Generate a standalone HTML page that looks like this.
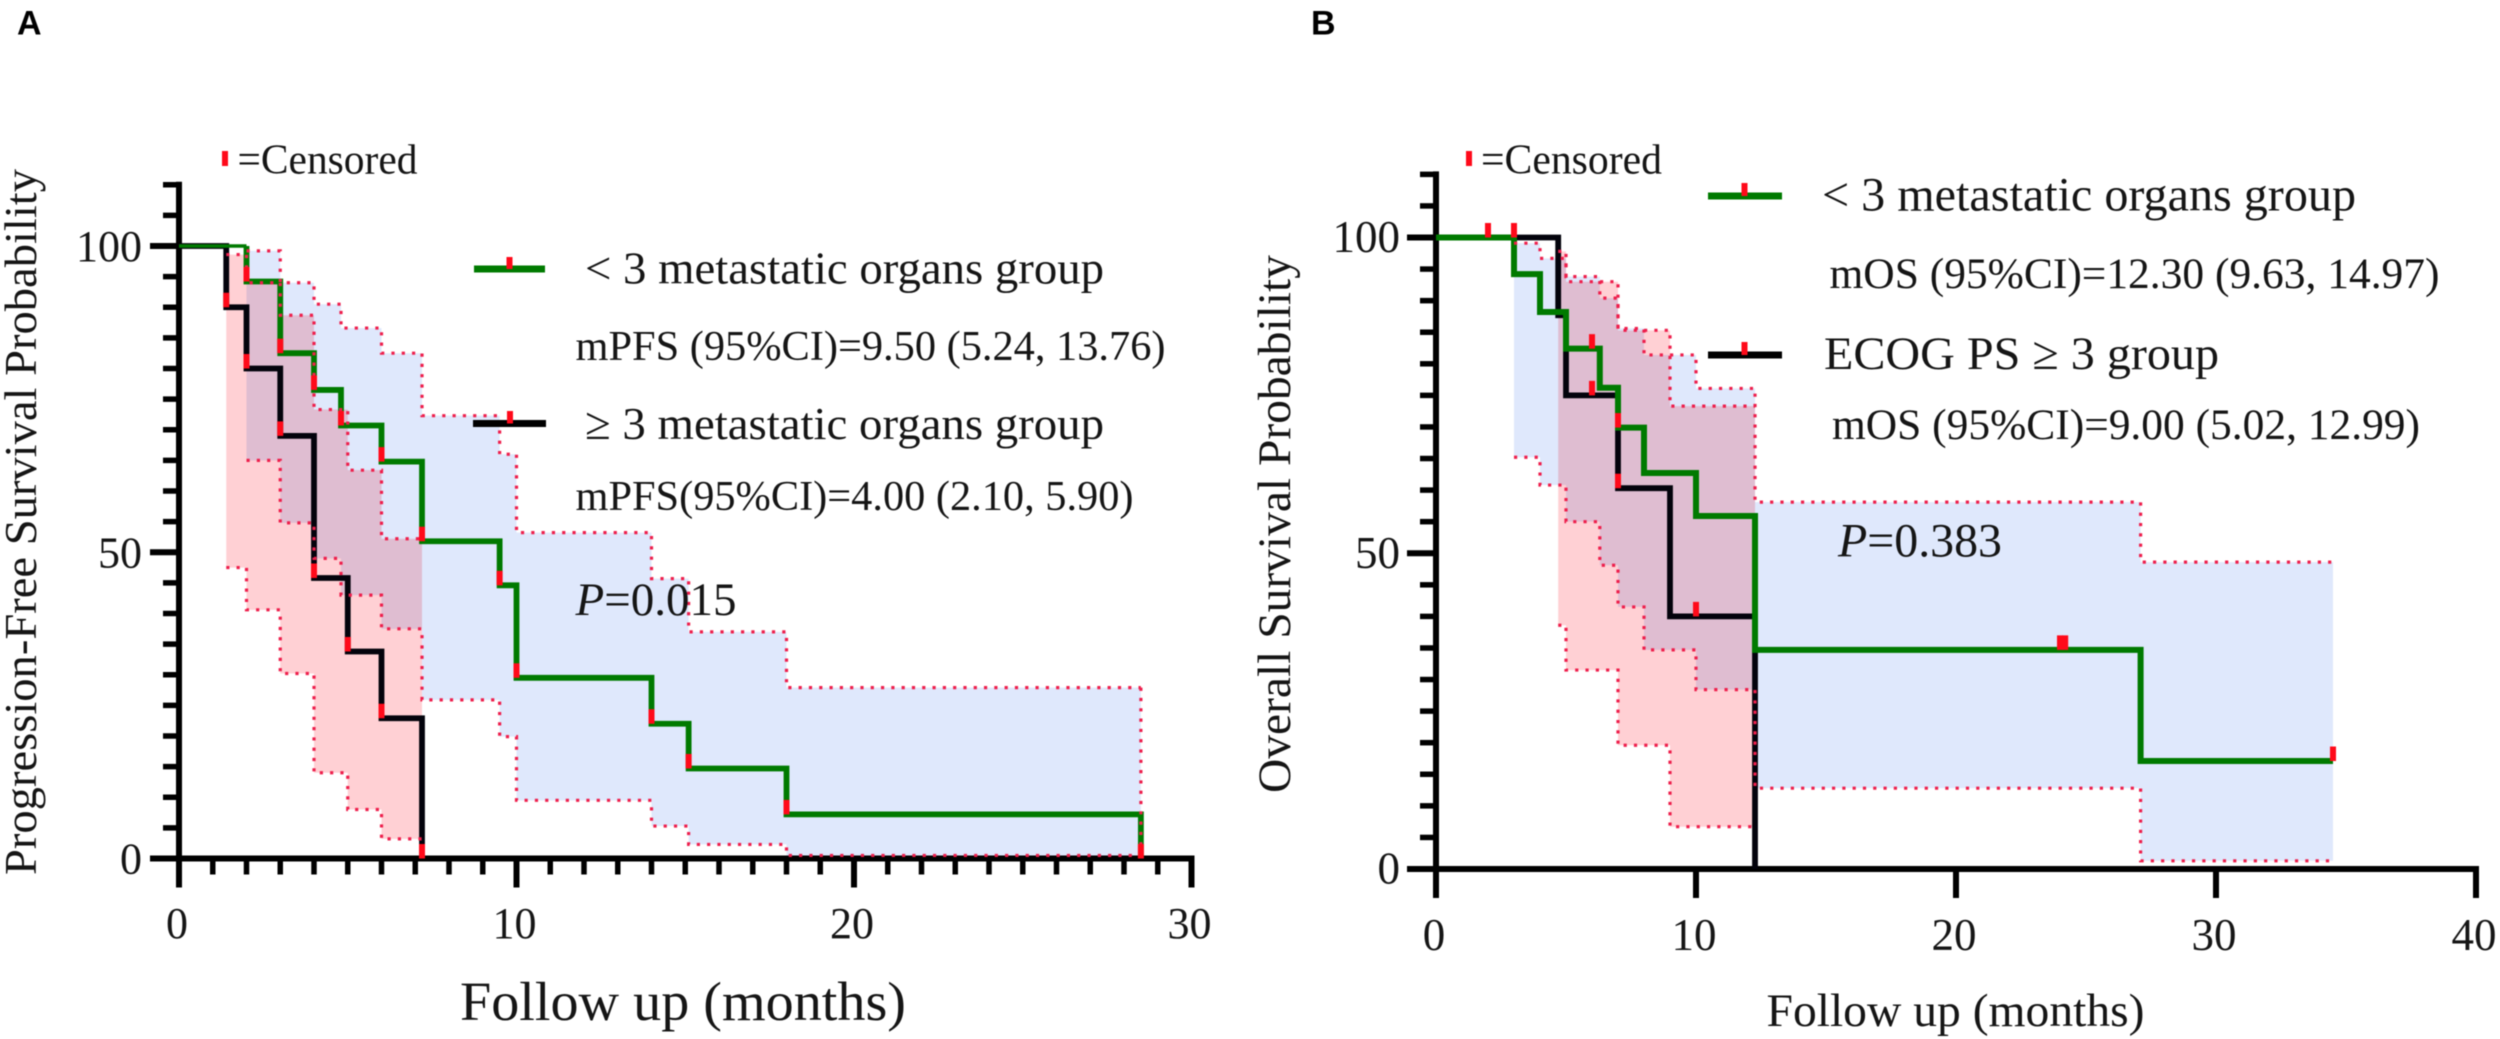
<!DOCTYPE html>
<html lang="en">
<head>
<meta charset="utf-8">
<title>Kaplan-Meier survival curves</title>
<style>
  html, body { margin: 0; padding: 0; background: #fff; }
  svg { display: block; filter: blur(0.6px); }
  text { font-family: "Liberation Serif", serif; fill: #151515; }
  .letter { font-family: "Liberation Sans", sans-serif; font-weight: 700; font-size: 34px; fill: #000; }
</style>
</head>
<body>
<svg id="figure" xmlns="http://www.w3.org/2000/svg" width="2500" height="1039" viewBox="0 0 2500 1039">
  <rect x="0" y="0" width="2500" height="1039" fill="#fff"/>
  <g id="panel-a"></g>
  <g id="panel-b"></g>

  <text class="letter" x="17" y="34.5">A</text>
  <text class="letter" x="1311" y="34.5">B</text>

  <!-- Panel A annotations -->
  <g>
    <rect x="222" y="151" width="6" height="15" fill="#ff0a1a"/>
    <text x="237.5" y="173.5" font-size="42" textLength="180" lengthAdjust="spacingAndGlyphs">=Censored</text>
    <line x1="474" y1="269" x2="545" y2="269" stroke="#007a00" stroke-width="7"/>
    <rect x="506.5" y="257" width="6" height="12" fill="#ff0a1a"/>
    <text x="585" y="283.5" font-size="46" textLength="519" lengthAdjust="spacingAndGlyphs">&lt; 3 metastatic organs group</text>
    <text x="575.5" y="360" font-size="42" textLength="590" lengthAdjust="spacingAndGlyphs">mPFS (95%CI)=9.50 (5.24, 13.76)</text>
    <line x1="473" y1="423.5" x2="546" y2="423.5" stroke="#000" stroke-width="7"/>
    <rect x="507" y="411" width="6" height="12.5" fill="#ff0a1a"/>
    <text x="585" y="439" font-size="46" textLength="519" lengthAdjust="spacingAndGlyphs">≥ 3 metastatic organs group</text>
    <text x="575.5" y="510" font-size="42" textLength="558" lengthAdjust="spacingAndGlyphs">mPFS(95%CI)=4.00 (2.10, 5.90)</text>
    <text x="575.5" y="615" font-size="47" textLength="161" lengthAdjust="spacingAndGlyphs"><tspan font-style="italic">P</tspan>=0.015</text>
    <text x="460" y="1020" font-size="55" textLength="446" lengthAdjust="spacingAndGlyphs">Follow up (months)</text>
    <text transform="translate(36 875) rotate(-90)" x="0" y="0" font-size="46" textLength="706" lengthAdjust="spacingAndGlyphs">Progression-Free Survival Probability</text>
  </g>

  <!-- Panel B annotations -->
  <g>
    <rect x="1466" y="151" width="6" height="15" fill="#ff0a1a"/>
    <text x="1481" y="173.5" font-size="42" textLength="181" lengthAdjust="spacingAndGlyphs">=Censored</text>
    <line x1="1708" y1="196" x2="1782" y2="196" stroke="#007a00" stroke-width="7"/>
    <rect x="1741.5" y="183" width="6" height="13" fill="#ff0a1a"/>
    <text x="1822" y="210.5" font-size="48" textLength="534" lengthAdjust="spacingAndGlyphs">&lt; 3 metastatic organs group</text>
    <text x="1829.5" y="288" font-size="43" textLength="610" lengthAdjust="spacingAndGlyphs">mOS (95%CI)=12.30 (9.63, 14.97)</text>
    <line x1="1708" y1="355" x2="1782" y2="355" stroke="#000" stroke-width="7"/>
    <rect x="1741.5" y="342" width="6" height="13" fill="#ff0a1a"/>
    <text x="1824" y="369" font-size="47" textLength="395" lengthAdjust="spacingAndGlyphs">ECOG PS ≥ 3 group</text>
    <text x="1832" y="439" font-size="43" textLength="588" lengthAdjust="spacingAndGlyphs">mOS (95%CI)=9.00 (5.02, 12.99)</text>
    <text x="1838" y="556.5" font-size="48" textLength="164" lengthAdjust="spacingAndGlyphs"><tspan font-style="italic">P</tspan>=0.383</text>
    <text x="1766.5" y="1026" font-size="47" textLength="378" lengthAdjust="spacingAndGlyphs">Follow up (months)</text>
    <text transform="translate(1290 793) rotate(-90)" x="0" y="0" font-size="47" textLength="538" lengthAdjust="spacingAndGlyphs">Overall Survival Probability</text>
  </g>
</svg>

<script>
// ---------- Panel A data (progression-free survival) ----------
const aGreenTimes = [0, 2, 3, 4, 4.8, 6, 7.2, 9.5, 10, 14, 15.1, 18, 28.5];
const aGreenSurvival = [100, 94.2, 82.5, 76.5, 70.7, 64.8, 51.8, 44.6, 29.5, 22, 14.7, 7.2, 0];
const aBlackTimes = [0, 1.4, 2, 3, 4, 5, 6, 7.2];
const aBlackSurvival = [100, 90, 80, 69, 45.8, 33.8, 22.9, 0];
const aGreenCiTimes = [2, 3, 4, 4.8, 6, 7.2, 9.5, 10, 14, 15.1, 18, 28.5];
const aGreenCiUpper = [99.2, 94, 90.5, 86.6, 82.5, 72.3, 66, 53.2, 45.7, 37, 27.9];
const aGreenCiLower = [65, 54.8, 49, 43, 37.5, 25.9, 19.9, 9.5, 5.3, 2.3, 0.5];
const aBlackCiTimes = [1.4, 2, 3, 4, 5, 6, 7.2];
const aBlackCiUpper = [98.6, 94, 88.7, 73.3, 63.4, 52.2];
const aBlackCiLower = [47.5, 40.6, 30.2, 14, 8, 3.2];
const aCensorTimes = [2, 3, 4, 4.8, 6, 7.2, 9.5, 10, 14, 15.1, 18, 28.5, 1.4, 2, 3, 4, 5, 6, 7.2];
const aCensorSurvival = [94.2, 82.5, 76.5, 70.7, 64.8, 51.8, 44.6, 29.5, 22, 14.7, 7.2, 0, 90, 80, 69, 45.8, 33.8, 22.9, 0];
const aXTickLabels = [0, 10, 20, 30];
const aYTickLabels = [0, 50, 100];

// ---------- Panel B data (overall survival) ----------
const bGreenTimes = [0, 3, 4, 5, 6.3, 7, 8, 10, 12.27, 27.1, 34.5];
const bGreenSurvival = [100, 94.2, 88.2, 82.4, 76.2, 69.9, 62.7, 55.9, 34.7, 17.1, 17.1];
const bBlackTimes = [0, 4.7, 5, 7, 9, 12.27];
const bBlackSurvival = [100, 87.7, 75, 60.3, 40, 0];
const bGreenCiTimes = [3, 4, 5, 6.3, 7, 8, 10, 12.27, 27.1, 34.5];
const bGreenCiUpper = [99.1, 96.7, 93.8, 90.4, 85.6, 81.4, 76.1, 58.1, 48.6];
const bGreenCiLower = [65.2, 60.8, 55, 48.1, 41.5, 34.7, 28.4, 12.8, 1.3];
const bBlackCiTimes = [4.7, 5, 7, 9, 12.27];
const bBlackCiUpper = [97.8, 93, 85.3, 73.3];
const bBlackCiLower = [38.6, 31.5, 19.6, 6.7];
const bCensorTimes = [2, 3, 6, 7, 24, 24.2, 34.5, 6, 7, 10];
const bCensorSurvival = [100, 100, 82.4, 69.9, 34.7, 34.7, 17.1, 75, 60.3, 40];
const bXTickLabels = [0, 10, 20, 30, 40];
const bYTickLabels = [0, 50, 100];

// ---------- Axis functions ----------
const xA = t => 179 + t * 33.75;
const yA = s => 858.5 - s * 6.125;
const xB = t => 1436 + t * 26;
const yB = s => 869 - s * 6.315;

const SVG_NS = 'http://www.w3.org/2000/svg';
function make(tag, parent, attrs) {
  const node = document.createElementNS(SVG_NS, tag);
  for (const k in attrs) node.setAttribute(k, attrs[k]);
  parent.appendChild(node);
  return node;
}

// Step path; when fromIndex > 0 the path begins at that step's riser
function stepPath(times, vals, x, y, fromIndex) {
  const start = fromIndex || 0;
  let d;
  if (start > 0) {
    d = 'M' + x(times[start]) + ' ' + y(vals[start - 1]) + 'V' + y(vals[start]);
  } else {
    d = 'M' + x(times[0]) + ' ' + y(vals[0]);
  }
  for (let i = start + 1; i < times.length; i++) {
    d += 'H' + x(times[i]) + 'V' + y(vals[i]);
  }
  return d;
}

// Path for a CI edge: values.length === times.length - 1
function ciEdgePath(times, vals, x, y) {
  let d = 'M' + x(times[0]) + ' ' + y(vals[0]);
  for (let i = 0; i < vals.length; i++) {
    d += 'H' + x(times[i + 1]);
    if (i + 1 < vals.length) d += 'V' + y(vals[i + 1]);
  }
  return d;
}

// Closed band between the two CI edges
function ciBandPath(times, upper, lower, x, y) {
  let d = ciEdgePath(times, upper, x, y);
  d += 'V' + y(lower[lower.length - 1]);
  for (let i = lower.length - 1; i >= 0; i--) {
    d += 'H' + x(times[i]);
    if (i > 0) d += 'V' + y(lower[i - 1]);
  }
  return d + 'Z';
}

function drawBand(parent, times, upper, lower, x, y, fill, blend, name) {
  const band = make('path', parent, { d: ciBandPath(times, upper, lower, x, y), fill: fill, style: 'mix-blend-mode:' + blend });
  
  
}

function drawDots(parent, times, vals, x, y, name) {
  const dots = make('path', parent, {
    d: ciEdgePath(times, vals, x, y), fill: 'none', stroke: '#ee1f4c',
    'stroke-width': 3.2, 'stroke-dasharray': '3.2 7.1'
  });
  
  
}

function drawCurve(parent, times, vals, x, y, color, name, width, fromIndex) {
  const line = make('path', parent, {
    d: stepPath(times, vals, x, y, fromIndex), fill: 'none', stroke: color,
    'stroke-width': width, 'stroke-linejoin': 'miter', 'stroke-linecap': 'butt'
  });
  
  
}

function drawCensors(parent, times, vals, x, y, name) {
  for (let i = 0; i < times.length; i++) {
    const mark = make('rect', parent, { x: x(times[i]) - 3, y: y(vals[i]) - 14.5, width: 6, height: 14.5, fill: '#ff0a1a' });
    
    
  }
}

function drawAxes(parent, x, y, xMax, xMinorStep, xLabels, yLabels, xLabelY, xLabelSize, yLabelX, yLabelSize, yLabelDy) {
  const axisColor = '#000';
  const yAxis = make('line', parent, { x1: x(0), y1: y(110) - 3, x2: x(0), y2: y(0) + 3, stroke: axisColor, 'stroke-width': 6 });
  
  
  const xAxis = make('line', parent, { x1: x(0), y1: y(0), x2: x(xMax) + 3, y2: y(0), stroke: axisColor, 'stroke-width': 6 });
  
  

  for (let v = 0; v <= 110; v += 5) {
    const isMajor = v % 50 === 0;
    const tick = make('line', parent, { x1: x(0) - (isMajor ? 29 : 16), y1: y(v), x2: x(0), y2: y(v), stroke: axisColor, 'stroke-width': isMajor ? 6 : 5.5 });
    
    
  }
  if (xMinorStep > 0) {
    for (let t = 0; t <= xMax; t += xMinorStep) {
      if (t % 10 === 0) continue;
      const tick = make('line', parent, { x1: x(t), y1: y(0), x2: x(t), y2: y(0) + 16, stroke: axisColor, 'stroke-width': 5.5 });
      
      
    }
  }
  for (let i = 0; i < xLabels.length; i++) {
    const tick = make('line', parent, { x1: x(xLabels[i]), y1: y(0), x2: x(xLabels[i]), y2: y(0) + 29, stroke: axisColor, 'stroke-width': 6 });
    
    
    const label = make('text', parent, { x: x(xLabels[i]) - 2, y: xLabelY, 'font-size': xLabelSize, 'text-anchor': 'middle' });
    label.textContent = xLabels[i];
    
    
  }
  for (let i = 0; i < yLabels.length; i++) {
    const label = make('text', parent, { x: yLabelX, y: y(yLabels[i]) + yLabelDy, 'font-size': yLabelSize, 'text-anchor': 'end' });
    label.textContent = yLabels[i];
    
    
  }
}

// ---------- Panel A ----------
const panelA = document.getElementById('panel-a');
drawBand(panelA, aGreenCiTimes, aGreenCiUpper, aGreenCiLower, xA, yA, '#dfe8fc', 'normal', 'ci-band-low-organs-a');
drawBand(panelA, aBlackCiTimes, aBlackCiUpper, aBlackCiLower, xA, yA, '#ffd0d4', 'multiply', 'ci-band-high-organs-a');
drawAxes(panelA, xA, yA, 30, 1, aXTickLabels, aYTickLabels, 938, 44, 142, 44, 15);
drawCurve(panelA, aBlackTimes, aBlackSurvival, xA, yA, '#03030c', 'curve-high-organs-a', 5.8);
const aGreenStart = make('line', panelA, { x1: xA(aGreenTimes[0]), y1: yA(aGreenSurvival[0]), x2: xA(aGreenTimes[1]), y2: yA(aGreenSurvival[0]), stroke: '#007a00', 'stroke-width': 3.5 });


drawCurve(panelA, aGreenTimes, aGreenSurvival, xA, yA, '#007a00', 'curve-low-organs-a', 5.8, 1);
drawDots(panelA, aGreenCiTimes, aGreenCiUpper, xA, yA, 'ci-upper-low-organs-a');
drawDots(panelA, aGreenCiTimes, aGreenCiLower, xA, yA, 'ci-lower-low-organs-a');
drawDots(panelA, aBlackCiTimes, aBlackCiUpper, xA, yA, 'ci-upper-high-organs-a');
drawDots(panelA, aBlackCiTimes, aBlackCiLower, xA, yA, 'ci-lower-high-organs-a');
const aClose = make('line', panelA, {
  x1: xA(aGreenCiTimes[aGreenCiTimes.length - 1]), y1: yA(aGreenCiUpper[aGreenCiUpper.length - 1]),
  x2: xA(aGreenCiTimes[aGreenCiTimes.length - 1]), y2: yA(aGreenCiLower[aGreenCiLower.length - 1]),
  stroke: '#ee1f4c', 'stroke-width': 3.2, 'stroke-dasharray': '3.2 7.1'
});


drawCensors(panelA, aCensorTimes, aCensorSurvival, xA, yA, 'censor-mark-a');

// ---------- Panel B ----------
const panelB = document.getElementById('panel-b');
drawBand(panelB, bGreenCiTimes, bGreenCiUpper, bGreenCiLower, xB, yB, '#dfe8fc', 'normal', 'ci-band-low-organs-b');
drawBand(panelB, bBlackCiTimes, bBlackCiUpper, bBlackCiLower, xB, yB, '#ffd0d4', 'multiply', 'ci-band-ecog-b');
drawAxes(panelB, xB, yB, 40, 0, bXTickLabels, bYTickLabels, 950, 45, 1400, 45, 14.5);
drawCurve(panelB, bBlackTimes, bBlackSurvival, xB, yB, '#03030c', 'curve-ecog-b', 5.8);
drawCurve(panelB, bGreenTimes, bGreenSurvival, xB, yB, '#007a00', 'curve-low-organs-b', 6);
drawDots(panelB, bGreenCiTimes, bGreenCiUpper, xB, yB, 'ci-upper-low-organs-b');
drawDots(panelB, bGreenCiTimes, bGreenCiLower, xB, yB, 'ci-lower-low-organs-b');
drawDots(panelB, bBlackCiTimes, bBlackCiUpper, xB, yB, 'ci-upper-ecog-b');
drawDots(panelB, bBlackCiTimes, bBlackCiLower, xB, yB, 'ci-lower-ecog-b');
drawCensors(panelB, bCensorTimes, bCensorSurvival, xB, yB, 'censor-mark-b');
</script>
</body>
</html>
